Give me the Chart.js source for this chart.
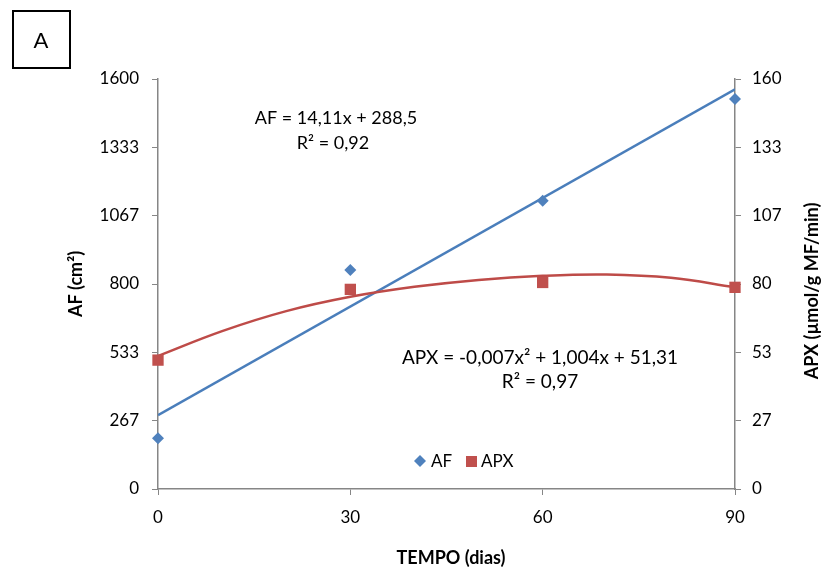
<!DOCTYPE html>
<html>
<head>
<meta charset="utf-8">
<script src="https://cdn.jsdelivr.net/npm/chart.js@4"></script>
<style>
  html, body { margin: 0; padding: 0; background: #fff; }
  #wrap { width: 821px; height: 572px; position: relative; }
</style>
</head>
<body>
<div id="wrap"><canvas id="grafico" width="821" height="572"></canvas></div>
<script>
// Dados
const dias = [0, 30, 60, 90];
const af = [198, 855, 1125, 1522];
const apx = [50.3, 77.9, 80.6, 78.7];

// Linhas de tendência
const afTendX = [0, 90];
const afTend = [288.5, 1560];
const apxTendX = [0, 10, 20, 30, 40, 50, 60, 70, 80, 90];
const apxTend = [51.9, 61.6, 69.4, 75.0, 78.9, 81.6, 83.2, 83.7, 82.4, 78.7];

// Rótulos dos eixos
const xTicks = [0, 30, 60, 90];
const afTickLabels = ['0', '267', '533', '800', '1067', '1333', '1600'];
const apxTickLabels = ['0', '27', '53', '80', '107', '133', '160'];

const fonte = 'Lato, "Open Sans", sans-serif';
const corEixo = '#868686';
const azul = '#4A7EBB';
const vermelho = '#BE4B48';

function pares(xs, ys) { return xs.map((x, i) => ({ x: x, y: ys[i] })); }

// Textos, legenda e caixa "A"
const extras = {
    id: 'extras',
    afterDraw(chart) {
        const ctx = chart.ctx;
        ctx.save();
        ctx.fillStyle = '#000';
        ctx.textAlign = 'center';
        ctx.textBaseline = 'middle';

        // caixa A
        ctx.strokeStyle = '#000';
        ctx.lineWidth = 2;
        ctx.strokeRect(13, 11, 57, 57);
        ctx.font = '22px ' + fonte;
        ctx.fillText('A', 41, 41);

        // equações
        ctx.font = '18px ' + fonte;
        ctx.fillText('AF = 14,11x + 288,5', 336, 118);
        ctx.fillText('R² = 0,92', 333, 143);
        ctx.font = '19px ' + fonte;
        ctx.fillText('APX = -0,007x² + 1,004x + 51,31', 540, 358);
        ctx.fillText('R² = 0,97', 540, 382);

        // títulos dos eixos
        ctx.font = 'bold 18px ' + fonte;
        ctx.fillText('TEMPO (dias)', 451, 558);
        ctx.save();
        ctx.translate(76, 284);
        ctx.rotate(-Math.PI / 2);
        ctx.fillText('AF (cm²)', 0, 0);
        ctx.restore();
        ctx.save();
        ctx.translate(812, 291);
        ctx.rotate(-Math.PI / 2);
        ctx.fillText('APX (µmol/g MF/min)', 0, 0);
        ctx.restore();

        // legenda
        const ly = 461;
        ctx.fillStyle = '#4F81BD';
        ctx.beginPath();
        ctx.moveTo(420, ly - 6); ctx.lineTo(426, ly); ctx.lineTo(420, ly + 6); ctx.lineTo(414, ly);
        ctx.closePath(); ctx.fill();
        ctx.fillStyle = '#C0504D';
        ctx.fillRect(466, ly - 5, 11, 11);
        ctx.fillStyle = '#000';
        ctx.textAlign = 'left';
        ctx.font = '17px ' + fonte;
        ctx.fillText('AF', 431, ly + 1);
        ctx.fillText('APX', 481, ly + 1);
        ctx.restore();
    }
};

const ctx = document.getElementById('grafico').getContext('2d');
new Chart(ctx, {
    type: 'scatter',
    data: {
        datasets: [
            {
                label: 'AF', data: pares(dias, af), yAxisID: 'yAF',
                pointStyle: 'rectRot', pointRadius: 6, backgroundColor: '#4F81BD',
                borderWidth: 0, order: 1, clip: false
            },
            {
                label: 'APX', data: pares(dias, apx), yAxisID: 'yAPX',
                pointStyle: 'rect', pointRadius: 8, backgroundColor: '#C0504D',
                borderWidth: 0, order: 0, clip: false
            },
            {
                label: 'tend AF', data: pares(afTendX, afTend), yAxisID: 'yAF',
                showLine: true, pointRadius: 0, borderColor: azul, borderWidth: 2.5, order: 3
            },
            {
                label: 'tend APX', data: pares(apxTendX, apxTend), yAxisID: 'yAPX',
                showLine: true, pointRadius: 0, borderColor: vermelho, borderWidth: 2.5,
                tension: 0.4, order: 2
            }
        ]
    },
    options: {
        responsive: false,
        animation: false,
        layout: { padding: { top: 79, left: 0, right: 0, bottom: 0 } },
        plugins: { legend: { display: false }, tooltip: { enabled: false } },
        scales: {
            x: {
                type: 'linear', min: 0, max: 90,
                afterBuildTicks: s => { s.ticks = xTicks.map(v => ({ value: v })); },
                afterFit: s => { s.height = 83; },
                border: { color: corEixo, width: 1.5 },
                grid: { drawOnChartArea: false, drawTicks: true, tickLength: 6, color: corEixo },
                ticks: { color: '#000', font: { family: fonte, size: 17 }, padding: 12 }
            },
            yAF: {
                type: 'linear', position: 'left', min: 0, max: 1600,
                afterBuildTicks: s => { s.ticks = afTickLabels.map((t, i) => ({ value: 1600 * i / 6 })); },
                afterFit: s => { s.width = 158; },
                border: { color: corEixo, width: 1.5 },
                grid: { drawOnChartArea: false, drawTicks: true, tickLength: 6, color: corEixo },
                ticks: {
                    color: '#000', font: { family: fonte, size: 17 }, padding: 13,
                    callback: (v, i) => afTickLabels[i]
                }
            },
            yAPX: {
                type: 'linear', position: 'right', min: 0, max: 160,
                afterBuildTicks: s => { s.ticks = apxTickLabels.map((t, i) => ({ value: 160 * i / 6 })); },
                afterFit: s => { s.width = 86; },
                border: { color: corEixo, width: 1.5 },
                grid: { drawOnChartArea: false, drawTicks: true, tickLength: 6, color: corEixo },
                ticks: {
                    color: '#000', font: { family: fonte, size: 17 }, padding: 11,
                    callback: (v, i) => apxTickLabels[i]
                }
            }
        }
    },
    plugins: [extras]
});
</script>
</body>
</html>
